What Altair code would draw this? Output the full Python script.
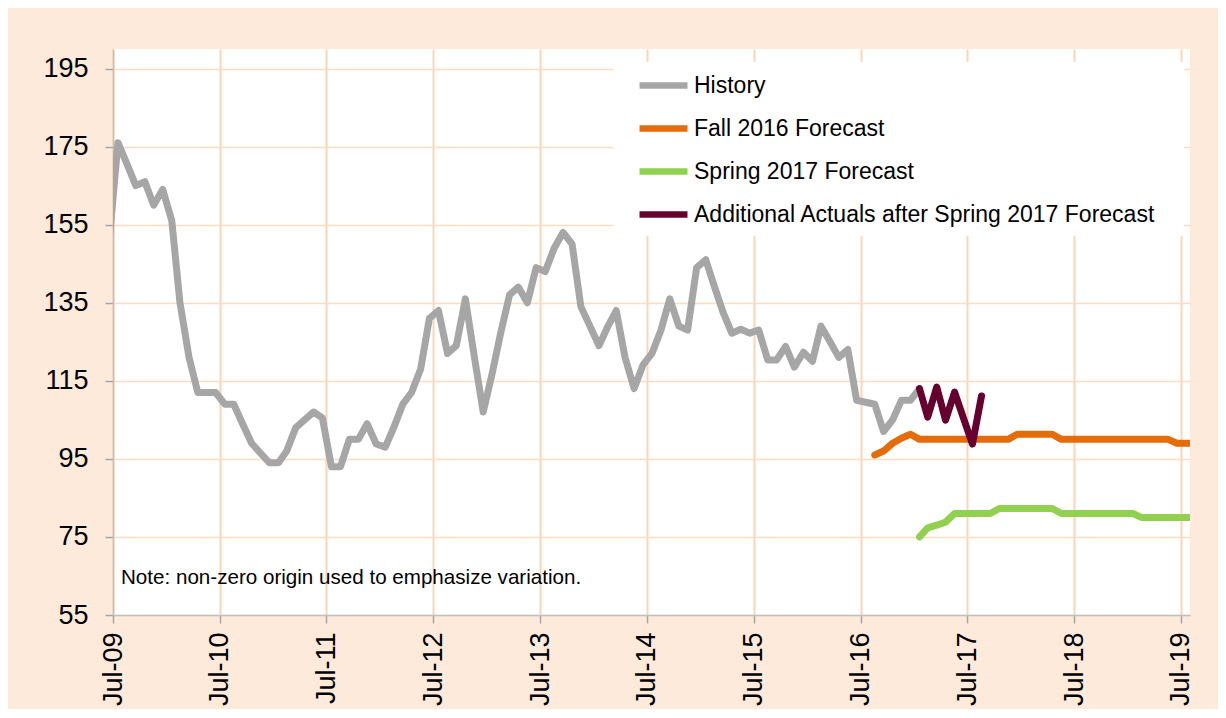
import altair as alt
import pandas as pd

# ---------------- data ----------------
history_start = "2009-07-01"
history = [150, 176, 170.5, 165, 166, 160, 164, 156, 135, 121, 112, 112,
           112, 109, 109, 104, 99, 96.5, 94, 94, 97, 103, 105, 107,
           105.5, 93, 93, 100, 100, 104, 98.8, 98, 103, 109, 112, 118,
           131, 133, 122, 124, 136, 121.5, 107, 117, 127, 137, 139, 135,
           144, 143, 149, 153, 150, 134, 129, 124, 128.6, 133, 121, 113,
           119, 122, 128, 136, 129, 128, 144, 146, 139.5, 132.6, 127.2, 128.2,
           127.2, 128, 120.3, 120.3, 123.8, 118.5, 122.3, 120, 129, 125, 121, 123,
           110, 109.5, 109, 102, 105, 110, 110, 113]

fall_start = "2016-09-01"
fall = [96, 97, 99, 100.3, 101.3, 100, 100, 100, 100, 100, 100, 100,
        100, 100, 100, 100, 101.3, 101.3, 101.3, 101.3, 101.3, 100, 100, 100,
        100, 100, 100, 100, 100, 100, 100, 100, 100, 100, 99, 99, 99]

spring_start = "2017-02-01"
spring = [75, 77.3, 78, 78.8, 81, 81, 81, 81, 81, 82.3, 82.3, 82.3,
          82.3, 82.3, 82.3, 82.3, 81, 81, 81, 81, 81, 81, 81, 81,
          81, 80, 80, 80, 80, 80, 80, 80]

actual_start = "2017-02-01"
actual = [113, 105.7, 113.4, 104.9, 112.1, 105.5, 98.8, 111.1]

series_names = ["History", "Fall 2016 Forecast", "Spring 2017 Forecast",
                "Additional Actuals after Spring 2017 Forecast"]
series_colors = ["#A6A6A6", "#E46C0A", "#92D050", "#66002E"]
series_starts = [history_start, fall_start, spring_start, actual_start]
series_values = [history, fall, spring, actual]

y_ticks = [55, 75, 95, 115, 135, 155, 175, 195]
tick_years = list(range(2009, 2020))
note_text = "Note: non-zero origin used to emphasize variation."

FONT = "Liberation Sans"


def frame(name, start, vals):
    return pd.DataFrame({
        "date": pd.date_range(start, periods=len(vals), freq="MS").strftime("%Y-%m-%dT00:00:00"),
        "value": vals,
        "series": name,
    })


df = pd.concat([frame(n, s, v) for n, s, v in zip(series_names, series_starts, series_values)],
               ignore_index=True)

x_enc = alt.X(
    "date:T",
    scale=alt.Scale(domain=[alt.DateTime(year=2009, month=7, date=15),
                            alt.DateTime(year=2019, month=8, date=15)]),
    axis=alt.Axis(
        values=[alt.DateTime(year=y, month=7, date=15) for y in tick_years],
        format="%b-%y", labelAngle=-90, labelFontSize=27, labelFont=FONT,
        labelColor="black", labelPadding=9, labelOverlap=False, labelFlush=False,
        tickColor="#A6A6A6", tickSize=8, tickWidth=1.5,
        domainColor="#BFBFBF", domainWidth=1.5,
        gridColor="#FCD5B4", gridWidth=2, title=None,
    ),
)
y_enc = alt.Y(
    "value:Q",
    scale=alt.Scale(domain=[55, 200], nice=False, zero=False),
    axis=alt.Axis(
        values=y_ticks, labelFontSize=27, labelFont=FONT, labelColor="black",
        labelPadding=17, tickColor="#A6A6A6", tickSize=8, tickWidth=1.5,
        domainColor="#BFBFBF", domainWidth=1.5,
        gridColor="#FDDCC2", gridWidth=1.5, title=None,
    ),
)
color_enc = alt.Color(
    "series:N",
    scale=alt.Scale(domain=series_names, range=series_colors),
    legend=alt.Legend(
        title=None, orient="none", legendX=523, legendY=9,
        symbolType="stroke", symbolSize=2300, symbolStrokeWidth=6.5,
        labelFontSize=23, labelFont=FONT, labelColor="black", labelOffset=3,
        labelLimit=700, rowPadding=2, padding=0,
    ),
)

base = alt.Chart(df)
layers = []
for name in series_names:
    layers.append(
        base.transform_filter(alt.datum.series == name)
        .mark_line(strokeWidth=7, strokeCap="round", strokeJoin="round", clip=True)
        .encode(x=x_enc, y=y_enc, color=color_enc)
    )

legend_box = alt.Chart(alt.Data(values=[{}])).mark_rect(color="white").encode(
    x=alt.value(500), x2=alt.value(1071), y=alt.value(13), y2=alt.value(187)
)

note = alt.Chart(alt.Data(values=[{"t": note_text}])).mark_text(
    align="left", baseline="middle", fontSize=20.6, font=FONT, color="black"
).encode(x=alt.value(8), y=alt.value(529), text="t:N")

chart = alt.layer(legend_box, *layers, note).properties(
    width=1077, height=566,
    autosize=alt.AutoSizeParams(type="none"),
    padding={"left": 105, "top": 41, "right": 28, "bottom": 94},
    background="#FDEADA",
).configure_view(fill="white", strokeWidth=0)

chart.save("out.html", embed_options={"renderer": "svg", "actions": False})
